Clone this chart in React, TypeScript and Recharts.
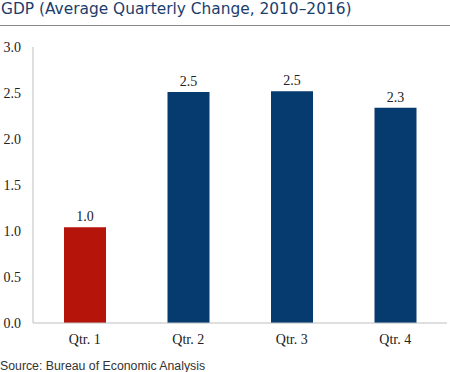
import { BarChart, Bar, XAxis, YAxis, Cell, LabelList } from "recharts";

const quartale = ["Qtr. 1", "Qtr. 2", "Qtr. 3", "Qtr. 4"];
const veraenderung = [1.04, 2.51, 2.52, 2.34];
const farben = ["#b5140b", "#053b6e", "#053b6e", "#053b6e"];
const yTicks = [0, 0.5, 1, 1.5, 2, 2.5, 3];

const daten = quartale.map((q, i) => ({ q, wert: veraenderung[i] }));

const serif = "'Liberation Serif', serif";

export default function App() {
  return (
    <div
      style={{
        position: "absolute",
        left: 0,
        top: 0,
        width: 450,
        height: 372,
        background: "#fff",
        overflow: "hidden",
      }}
    >
      <div
        style={{
          position: "absolute",
          left: 1,
          top: 0,
          fontFamily: "'DejaVu Sans', sans-serif",
          fontSize: 15.4,
          color: "#1b3d6d",
          whiteSpace: "nowrap",
        }}
      >
        GDP (Average Quarterly Change, 2010–2016)
      </div>
      <div
        style={{
          position: "absolute",
          left: 0,
          top: 25,
          width: 450,
          height: 1,
          background: "#8a8a8a",
        }}
      />
      <div style={{ position: "absolute", left: 0, top: 0 }}>
        <BarChart
          width={450}
          height={372}
          data={daten}
          margin={{ top: 47, right: 3, left: 0, bottom: 19 }}
        >
          <XAxis
            dataKey="q"
            tickLine={false}
            stroke="#bfbfbf"
            tickMargin={5}
            tick={{ fill: "#222", fontSize: 14, fontFamily: serif }}
          />
          <YAxis
            domain={[0, 3]}
            ticks={yTicks}
            width={33}
            tickLine={false}
            tickSize={0}
            tickMargin={12}
            stroke="#bfbfbf"
            tickFormatter={(v: number) => v.toFixed(1)}
            tick={{ fill: "#222", fontSize: 14, fontFamily: serif }}
          />
          <Bar dataKey="wert" barSize={42} isAnimationActive={false}>
            {daten.map((d, i) => (
              <Cell key={d.q} fill={farben[i]} />
            ))}
            <LabelList
              dataKey="wert"
              position="top"
              offset={6}
              formatter={(v: number) => v.toFixed(1)}
              style={{ fill: "#222", fontSize: 14, fontFamily: serif }}
            />
          </Bar>
        </BarChart>
      </div>
      <div
        style={{
          position: "absolute",
          left: 0,
          top: 359,
          fontFamily: "'Liberation Sans', Arial, sans-serif",
          fontSize: 12.3,
          color: "#333",
          whiteSpace: "nowrap",
        }}
      >
        Source: Bureau of Economic Analysis
      </div>
    </div>
  );
}
